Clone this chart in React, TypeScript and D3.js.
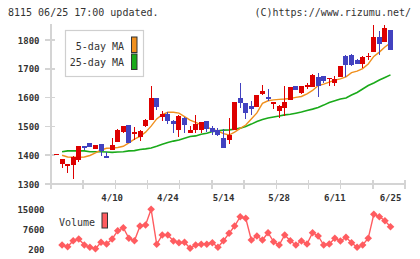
import React from 'react';
import * as d3 from 'd3';

// trading days shown on the chart
const dates = [
  '3/27', '3/30', '3/31', '4/1', '4/2', '4/3', '4/6', '4/7', '4/8', '4/9',
  '4/10', '4/13', '4/14', '4/15', '4/16', '4/17', '4/20', '4/21', '4/22', '4/23',
  '4/24', '4/27', '4/28', '4/30', '5/1', '5/7', '5/8', '5/11', '5/12', '5/13',
  '5/14', '5/15', '5/18', '5/19', '5/20', '5/21', '5/22', '5/25', '5/26', '5/27',
  '5/28', '5/29', '6/1', '6/2', '6/3', '6/4', '6/5', '6/8', '6/9', '6/10',
  '6/11', '6/12', '6/15', '6/16', '6/17', '6/18', '6/19', '6/22', '6/23', '6/24',
  '6/25',
];

const opens = [
  1402, 1369, 1364, 1367, 1384, 1432, 1442, 1422, 1439, 1396,
  1418, 1447, 1482, 1504, 1472, 1464, 1500, 1524, 1599, 1534,
  1544, 1519, 1487, 1530, 1478, 1487, 1487, 1519, 1494, 1487,
  1460, 1453, 1487, 1599, 1581, 1571, 1567, 1612, 1602, 1579,
  1554, 1564, 1592, 1640, 1616, 1637, 1637, 1671, 1675, 1664,
  1650, 1672, 1745, 1748, 1731, 1717, 1741, 1758, 1810, 1793,
  1835,
];
const highs = [
  1405, 1388, 1369, 1396, 1433, 1433, 1443, 1436, 1440, 1410,
  1460, 1491, 1501, 1505, 1498, 1486, 1525, 1640, 1600, 1553,
  1550, 1522, 1538, 1531, 1501, 1540, 1516, 1520, 1501, 1494,
  1491, 1529, 1586, 1651, 1582, 1589, 1610, 1644, 1630, 1586,
  1575, 1640, 1638, 1641, 1641, 1651, 1681, 1685, 1676, 1669,
  1675, 1711, 1748, 1750, 1735, 1745, 1755, 1852, 1831, 1852,
  1836,
];
const lows = [
  1401, 1357, 1337, 1318, 1375, 1418, 1427, 1421, 1397, 1392,
  1417, 1446, 1476, 1442, 1453, 1450, 1497, 1523, 1557, 1519,
  1509, 1478, 1462, 1478, 1477, 1478, 1478, 1480, 1471, 1466,
  1424, 1439, 1486, 1564, 1526, 1540, 1566, 1609, 1590, 1560,
  1529, 1536, 1591, 1626, 1611, 1630, 1636, 1601, 1650, 1640,
  1640, 1671, 1670, 1710, 1716, 1703, 1731, 1757, 1748, 1792,
  1764,
];
const closes = [
  1404, 1387, 1368, 1395, 1432, 1425, 1428, 1435, 1416, 1393,
  1435, 1487, 1500, 1443, 1482, 1485, 1524, 1599, 1566, 1544,
  1520, 1509, 1536, 1506, 1487, 1508, 1515, 1491, 1480, 1470,
  1425, 1470, 1585, 1581, 1546, 1560, 1609, 1623, 1596, 1585,
  1571, 1585, 1637, 1627, 1640, 1644, 1679, 1640, 1658, 1668,
  1665, 1710, 1712, 1712, 1717, 1741, 1745, 1810, 1786, 1842,
  1765,
];

const ma5 = [
  null, 1400, 1394, 1393, 1393, 1394, 1399, 1408, 1418, 1424,
  1425, 1427, 1431, 1443, 1456, 1465, 1480, 1501, 1526, 1541,
  1549, 1549, 1546, 1534, 1522, 1514, 1505, 1498, 1489, 1484,
  1475, 1470, 1480, 1493, 1505, 1526, 1547, 1580, 1589, 1592,
  1594, 1595, 1597, 1601, 1604, 1613, 1625, 1642, 1647, 1654,
  1661, 1665, 1672, 1687, 1692, 1701, 1717, 1743, 1758, 1776,
  1790,
];
const ma25 = [
  null, 1412, 1415, 1415, 1415, 1415, 1412, 1412, 1412, 1411,
  1410, 1411, 1412, 1415, 1416, 1420, 1422, 1425, 1431, 1438,
  1444, 1449, 1453, 1459, 1465, 1467, 1473, 1476, 1482, 1485,
  1487, 1488, 1490, 1494, 1500, 1508, 1517, 1524, 1529, 1533,
  1536, 1540, 1542, 1546, 1550, 1555, 1560, 1566, 1574, 1583,
  1589, 1595, 1599, 1609, 1618, 1630, 1642, 1651, 1661, 1670,
  1679,
];

const volumes = [
  null, 1680, 1050, 3270, 3900, 1680, 830, 300, 2680, 2050,
  3900, 6970, 8080, 4160, 3270, 8710, 9080, 14890, 1940, 5380,
  5380, 3160, 2530, 2680, 460, 1680, 1940, 1940, 2530, 830,
  3270, 6010, 8710, 12150, 11560, 3530, 5010, 3530, 6230, 2900,
  1680, 5380, 3270, 1680, 3160, 2050, 6230, 5010, 1680, 2050,
  4160, 3160, 4530, 2530, 830, 1680, 4160, 13040, 12150, 10670,
  8450,
];

const priceTicks = [1300, 1400, 1500, 1600, 1700, 1800];
const volumeTicks = [200, 7600, 15000];
const dateLabels = ['4/10', '4/24', '5/14', '5/28', '6/11', '6/25'];

const W = 420;
const H = 259;
const left = 51;
const right = 405;
const mono = '"DejaVu Sans Mono", monospace';
const upColor = '#dd0000';
const downColor = '#4242c0';
const ma5Color = '#f0901e';
const ma25Color = '#1aaa1a';
const volColor = '#ff5c60';
const axisColor = '#d4d4d4';

const x = d3.scalePoint<string>().domain(dates).range([56.5, 390.5]);
const y = d3.scaleLinear().domain([1300, 1855]).range([184, 24.2]);
const yv = d3.scaleLinear().domain([200, 15000]).range([249, 209]);

const maLine = d3
  .line<number | null>()
  .defined((d) => d != null)
  .x((_, i) => x(dates[i]) as number)
  .y((d) => y(d as number));

const volLine = d3
  .line<number | null>()
  .defined((d) => d != null)
  .x((_, i) => x(dates[i]) as number)
  .y((d) => yv(d as number));

// evenly spaced grid ticks along the bottom axis
const xTicks = d3.range(12).map((i) => left + (i * (right - left)) / 11);

export default function App() {
  return (
    <svg
      width={W}
      height={H}
      style={{ position: 'absolute', left: 0, top: 0, background: '#fff' }}
      fontFamily={mono}
    >
      <text x={8} y={16} fontSize={10} fill="#333">8115 06/25 17:00 updated.</text>
      <text x={411} y={16} fontSize={10} fill="#333" textAnchor="end">(C)https://www.rizumu.net/</text>

      {/* axes */}
      <g stroke={axisColor} strokeWidth={1.5} shapeRendering="crispEdges">
        <line x1={left} x2={left} y1={y(1855)} y2={189} />
        <line x1={left} x2={right} y1={184} y2={184} />
        {priceTicks.map((t) => (
          <line key={t} x1={45} x2={55} y1={y(t)} y2={y(t)} />
        ))}
        {xTicks.map((t, i) => (
          <line key={i} x1={t} x2={t} y1={180} y2={189} />
        ))}
      </g>
      {priceTicks.map((t) => (
        <text key={t} x={39.5} y={y(t) + 3.5} fontSize={9} fontWeight="bold" fill="#333" textAnchor="end">
          {t}
        </text>
      ))}
      {dateLabels.map((d) => (
        <text key={d} x={x(d)} y={201} fontSize={9} fontWeight="bold" fill="#333" textAnchor="middle">
          {d}
        </text>
      ))}

      {/* moving averages */}
      <path d={maLine(ma25) ?? ''} fill="none" stroke={ma25Color} strokeWidth={1.6} />
      <path d={maLine(ma5) ?? ''} fill="none" stroke={ma5Color} strokeWidth={1.4} />

      {/* candles */}
      <g shapeRendering="crispEdges">
        {dates.map((d, i) => {
          const cx = x(d) as number;
          const up = closes[i] >= opens[i];
          const col = up ? upColor : downColor;
          const top = y(Math.max(opens[i], closes[i]));
          const bot = y(Math.min(opens[i], closes[i]));
          return (
            <g key={d}>
              <line x1={cx} x2={cx} y1={y(highs[i])} y2={y(lows[i])} stroke={col} strokeWidth={1} />
              <rect x={cx - 2.5} y={top} width={5} height={Math.max(1.2, bot - top)} fill={col} />
            </g>
          );
        })}
      </g>

      {/* legend */}
      <rect x={65.5} y={30.5} width={78} height={46} fill="#fff" stroke="#cfcfcf" strokeWidth={1.2} />
      <text x={124} y={50} fontSize={10} fill="#333" textAnchor="end">5-day MA</text>
      <text x={124} y={66} fontSize={10} fill="#333" textAnchor="end">25-day MA</text>
      <rect x={131.5} y={37} width={5.5} height={15.5} fill={ma5Color} stroke="#333" strokeWidth={1} />
      <rect x={131.5} y={54} width={5.5} height={15.5} fill={ma25Color} stroke="#333" strokeWidth={1} />

      {/* volume panel */}
      {volumeTicks.map((t) => (
        <text key={t} x={44.5} y={yv(t) + 3.5} fontSize={9} fontWeight="bold" fill="#333" textAnchor="end">
          {t}
        </text>
      ))}
      <text x={59} y={226} fontSize={10} fill="#333">Volume</text>
      <rect x={102} y={213} width={5.5} height={15} fill={volColor} stroke="#333" strokeWidth={1} />
      <path d={volLine(volumes) ?? ''} fill="none" stroke={volColor} strokeWidth={1.4} />
      {volumes.map((v, i) => {
        if (v == null) return null;
        const cx = x(dates[i]) as number;
        const cy = yv(v);
        return (
          <path
            key={i}
            d={`M${cx},${cy - 3.8}L${cx + 3.8},${cy}L${cx},${cy + 3.8}L${cx - 3.8},${cy}Z`}
            fill={volColor}
          />
        );
      })}
    </svg>
  );
}
